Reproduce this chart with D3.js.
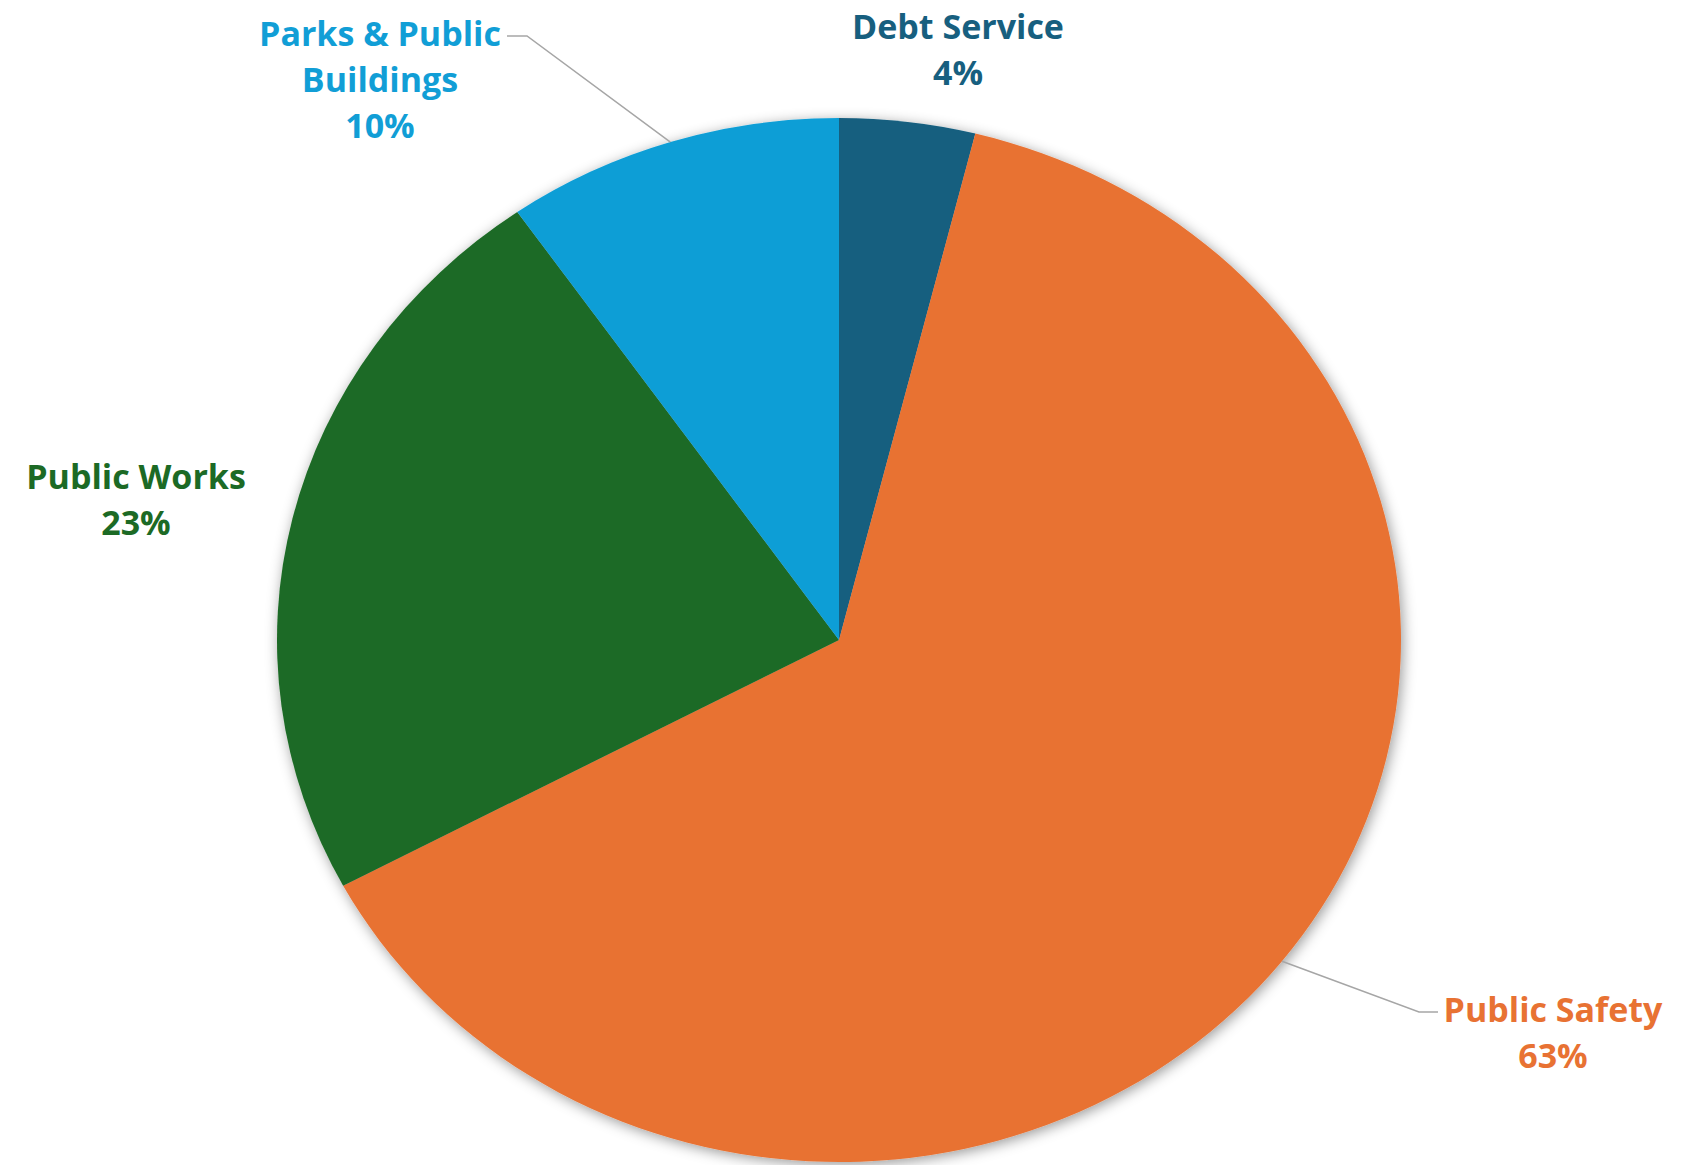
<!DOCTYPE html>
<html>
<head>
<meta charset="utf-8">
<script src="https://cdn.jsdelivr.net/npm/d3@7"></script>
<style>
  html, body { margin: 0; padding: 0; background: #ffffff; }
  svg { display: block; }
</style>
</head>
<body>
<div id="chart"></div>
<script>
// Budget share by department (percent)
const categories = ['Debt Service', 'Public Safety', 'Public Works', 'Parks & Public Buildings'];
const shares = [3.9, 63.3, 23.1, 9.7];
const colors = ['#175F7F', '#E87233', '#1C6A25', '#119ED6'];
// label lines as shown on the chart
const labelLines = [['Debt Service'], ['Public Safety'], ['Public Works'], ['Parks & Public', 'Buildings']];

const width = 1683, height = 1165;
const cx = 839, cy = 640;
const rx = 562, ry = 522;   // the pie is drawn slightly stretched sideways

// where each label block sits (centre x, first baseline y) and whether it gets a leader line
const labelLayout = {
    'Debt Service': { x: 958, y: 39, leader: null },
    'Public Safety': { x: 1553, y: 1022, leader: { elbowX: 1419, endX: 1438 } },
    'Public Works': { x: 136, y: 489, leader: null },
    'Parks & Public Buildings': { x: 380, y: 46, leader: { elbowX: 527, endX: 507 } }
};

const data = categories.map((c, i) => ({ name: c, value: shares[i], color: colors[i], lines: labelLines[i] }));
const total = d3.sum(shares);

const svg = d3.select('#chart')
    .append('svg')
    .attr('width', width)
    .attr('height', height)
    .attr('viewBox', `0 0 ${width} ${height}`);

// soft shadow round the pie
const defs = svg.append('defs');
const filter = defs.append('filter')
    .attr('id', 'pieShadow')
    .attr('x', '-10%').attr('y', '-10%')
    .attr('width', '120%').attr('height', '120%');
filter.append('feDropShadow')
    .attr('dx', 2)
    .attr('dy', 3)
    .attr('stdDeviation', 7)
    .attr('flood-color', '#000')
    .attr('flood-opacity', 0.4);

const pie = d3.pie()
    .value(d => d.value)
    .sort(null)
    .startAngle(0)
    .endAngle(2 * Math.PI);

const arcs = pie(data);

const arc = d3.arc()
    .innerRadius(0)
    .outerRadius(rx);

const g = svg.append('g')
    .attr('transform', `translate(${cx},${cy}) scale(1,${ry / rx})`)
    .attr('filter', 'url(#pieShadow)');

g.selectAll('path')
    .data(arcs)
    .join('path')
    .attr('d', arc)
    .attr('fill', d => d.data.color);

// point on the pie's rim at the slice's mid angle
function rimPoint(d) {
    const a = (d.startAngle + d.endAngle) / 2;
    return [cx + rx * Math.sin(a), cy - ry * Math.cos(a)];
}

// leader lines
const lineGroup = svg.append('g');
arcs.forEach(d => {
    const lay = labelLayout[d.data.name];
    if (!lay.leader) return;
    const [px, py] = rimPoint(d);
    const ly = lay.y - 10;
    lineGroup.append('polyline')
        .attr('points', `${px},${py} ${lay.leader.elbowX},${ly} ${lay.leader.endX},${ly}`)
        .attr('fill', 'none')
        .attr('stroke', '#a6a6a6')
        .attr('stroke-width', 1.5);
});

// labels: name lines then the rounded percentage
const fontSize = 34;
const lineHeight = 46;
const labels = svg.append('g')
    .style('font-family', '"Open Sans", "Noto Sans", sans-serif')
    .style('font-weight', 700)
    .style('font-size', fontSize + 'px');

arcs.forEach(d => {
    const lay = labelLayout[d.data.name];
    const t = labels.append('text')
        .attr('x', lay.x)
        .attr('y', lay.y)
        .attr('text-anchor', 'middle')
        .attr('fill', d.data.color);
    const rows = d.data.lines.concat([Math.round(d.data.value / total * 100) + '%']);
    rows.forEach((r, i) => {
        t.append('tspan')
            .attr('x', lay.x)
            .attr('dy', i === 0 ? 0 : lineHeight)
            .text(r);
    });
});
</script>
</body>
</html>
